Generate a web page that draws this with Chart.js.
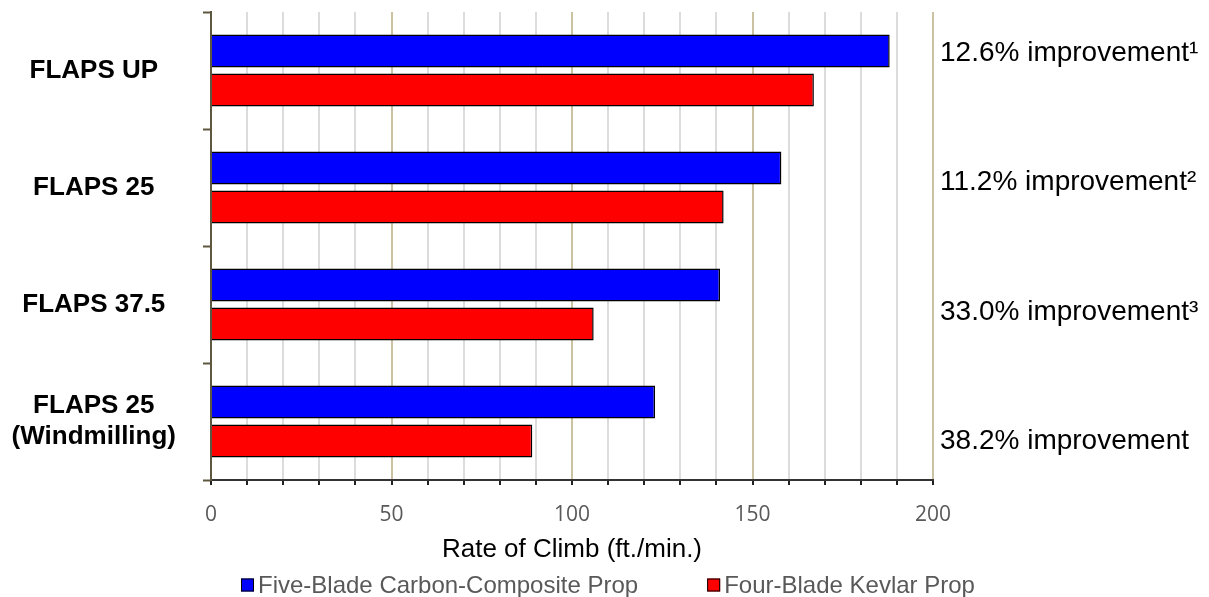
<!DOCTYPE html>
<html>
<head>
<meta charset="utf-8">
<script src="https://cdn.jsdelivr.net/npm/chart.js@4.4.1/dist/chart.umd.min.js"></script>
<style>
  html, body { margin: 0; padding: 0; background: #fff; }
  #wrap { width: 1209px; height: 597px; }
</style>
</head>
<body>
<div id="wrap"><canvas id="climbChart"></canvas></div>
<script>
// Rate of climb by flap setting, two propeller types
const categories = [['FLAPS UP'], ['FLAPS 25'], ['FLAPS 37.5'], ['FLAPS 25', '(Windmilling)']];
const fiveBlade = [188, 158, 141, 123];
const fourBlade = [167, 142, 106, 89];
const seriesNames = ['Five-Blade Carbon-Composite Prop', 'Four-Blade Kevlar Prop'];
const improvements = ['12.6% improvement¹', '11.2% improvement²', '33.0% improvement³', '38.2% improvement'];
const xLabelTicks = [0, 50, 100, 150, 200];

const ARIAL = '"Liberation Sans", Arial, sans-serif';

// text column to the right of the plot
const improvementLabels = {
    id: 'improvementLabels',
    afterDraw(chart) {
        const { ctx, chartArea } = chart;
        ctx.save();
        ctx.font = '28px ' + ARIAL;
        ctx.fillStyle = '#000';
        ctx.textAlign = 'left';
        ctx.textBaseline = 'middle';
        improvements.forEach((txt, i) => {
            ctx.fillText(txt, chartArea.right + 7, chartArea.top + 41 + i * 129.5);
        });
        ctx.restore();
    }
};

// legend row under the axis title
const bottomLegend = {
    id: 'bottomLegend',
    afterDraw(chart) {
        const { ctx } = chart;
        const sets = chart.data.datasets;
        const box = 13, gap = 4, spacing = 69, y = 585;
        ctx.save();
        ctx.font = '24px ' + ARIAL;
        ctx.textBaseline = 'middle';
        ctx.textAlign = 'left';
        const widths = sets.map(d => box + gap + ctx.measureText(d.label).width);
        const total = widths.reduce((a, b) => a + b, 0) + spacing * (sets.length - 1);
        let x = Math.round((chart.width - total) / 2) + 3;
        sets.forEach((d, i) => {
            ctx.fillStyle = d.backgroundColor;
            ctx.fillRect(x, y - box / 2, box, box);
            ctx.strokeStyle = '#000';
            ctx.lineWidth = 1;
            ctx.strokeRect(x + 0.5, y - box / 2 + 0.5, box - 1, box - 1);
            ctx.fillStyle = '#595959';
            ctx.fillText(d.label, x + box + gap, y + 1);
            x += widths[i] + spacing;
        });
        ctx.restore();
    }
};

new Chart(document.getElementById('climbChart'), {
    type: 'bar',
    data: {
        labels: categories,
        datasets: [
            {
                label: seriesNames[0],
                data: fiveBlade,
                backgroundColor: '#0000ff',
                borderColor: '#000',
                borderWidth: 1.5
            },
            {
                label: seriesNames[1],
                data: fourBlade,
                backgroundColor: '#ff0000',
                borderColor: '#000',
                borderWidth: 1.5
            }
        ]
    },
    options: {
        indexAxis: 'y',
        responsive: true,
        maintainAspectRatio: false,
        animation: false,
        categoryPercentage: 0.667,
        barPercentage: 0.846,
        layout: {
            padding: { left: 0, right: 276, top: 12, bottom: 0 }
        },
        plugins: {
            legend: { display: false },
            tooltip: { enabled: false }
        },
        scales: {
            x: {
                min: 0,
                max: 200,
                afterFit: scale => { scale.height = 117; },
                ticks: {
                    stepSize: 10,
                    autoSkip: false,
                    maxRotation: 0,
                    padding: 17,
                    color: '#595959',
                    font: { family: 'Open Sans', size: 21 },
                    callback: v => xLabelTicks.includes(v) ? String(v) : ''
                },
                grid: {
                    color: ctx => (ctx.tick && ctx.tick.value % 50 === 0) ? '#cbc2a2' : '#dcdcdc',
                    lineWidth: 2,
                    tickColor: '#222',
                    tickLength: 5,
                    tickWidth: 2
                },
                border: { color: '#333', width: 2 },
                title: {
                    display: true,
                    text: 'Rate of Climb (ft./min.)',
                    color: '#000',
                    font: { family: 'Liberation Sans', size: 26 },
                    padding: { top: 0, bottom: 32 }
                }
            },
            y: {
                afterFit: scale => {
                    scale.width = 211;
                    scale.paddingTop = 0;
                    scale.paddingBottom = 0;
                },
                ticks: {
                    crossAlign: 'center',
                    padding: 27,
                    color: '#000',
                    font: { family: 'Liberation Sans', size: 26, weight: 'bold' }
                },
                grid: {
                    offset: true,
                    drawOnChartArea: false,
                    tickLength: 8,
                    tickColor: '#5e573f',
                    tickWidth: 2
                },
                border: { color: '#5e573f', width: 2 }
            }
        }
    },
    plugins: [improvementLabels, bottomLegend]
});
</script>
</body>
</html>
